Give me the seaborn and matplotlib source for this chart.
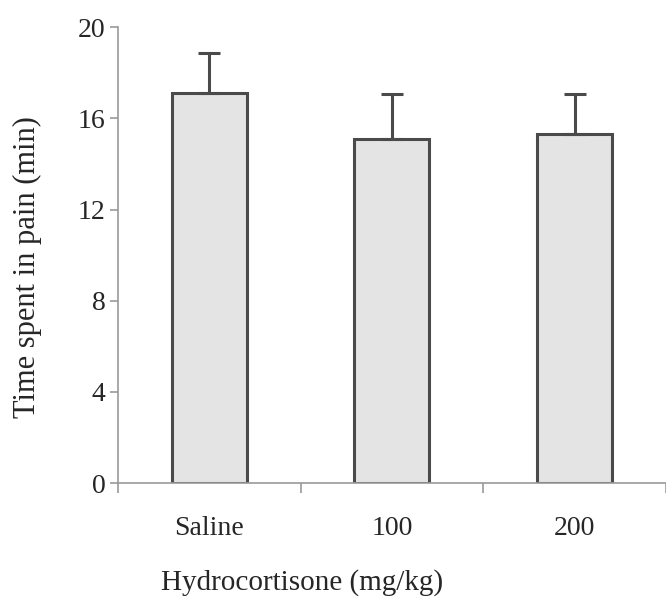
import matplotlib
matplotlib.use("Agg")
import matplotlib.pyplot as plt
import seaborn as sns
import pandas as pd

categories = ["Saline", "100", "200"]
means = [17.1, 15.1, 15.3]
upper_err = [1.75, 1.95, 1.75]
y_ticks = [0, 4, 8, 12, 16, 20]

sns.set_theme(style="white")
plt.rcParams["font.family"] = ["Liberation Serif", "DejaVu Serif"]

df = pd.DataFrame({"group": categories, "mean": means})

fig = plt.figure(figsize=(6.66, 6.04), dpi=100)
ax = fig.add_axes([0.177, 0.2003, 0.823, 0.7547])

sns.barplot(data=df, x="group", y="mean", order=categories, color="#e4e4e4",
            edgecolor="#4a4a4a", linewidth=2.2, width=0.41, errorbar=None, ax=ax,
            saturation=1)
ax.errorbar(range(len(categories)), means, yerr=[[0]*len(means), upper_err],
            fmt="none", ecolor="#4a4a4a", elinewidth=2.2, capsize=8, capthick=2.2,
            zorder=1)

ax.set_ylim(0, 20)
ax.set_xlim(-0.5, 2.5)
ax.set_yticks(y_ticks)
ax.set_yticklabels([str(t) for t in y_ticks], fontsize=20)
ax.set_xticks([-0.5, 0.5, 1.5, 2.5])
ax.set_xticklabels([])
ax.set_xticks([0, 1, 2], minor=True)
ax.set_xticklabels(categories, minor=True, fontsize=20)
ax.tick_params(axis="x", which="major", direction="out", length=7, color="#9a9a9a", width=1.2, bottom=True)
ax.tick_params(axis="x", which="minor", length=0, pad=24)
ax.tick_params(axis="y", direction="out", length=6, color="#9a9a9a", width=1.2, left=True, pad=3)
ax.set_xlabel("")
ax.set_ylabel("")

for s in ["top", "right"]:
    ax.spines[s].set_visible(False)
for s in ["left", "bottom"]:
    ax.spines[s].set_color("#9a9a9a")
    ax.spines[s].set_linewidth(1.2)

fig.text(302 / 666, 1 - 583 / 604, "Hydrocortisone (mg/kg)", fontsize=21,
         ha="center", va="center")
fig.text(27 / 666, 1 - 267 / 604, "Time spent in pain (min)", fontsize=22,
         ha="center", va="center", rotation=90)

fig.savefig("out.png", dpi=100)
